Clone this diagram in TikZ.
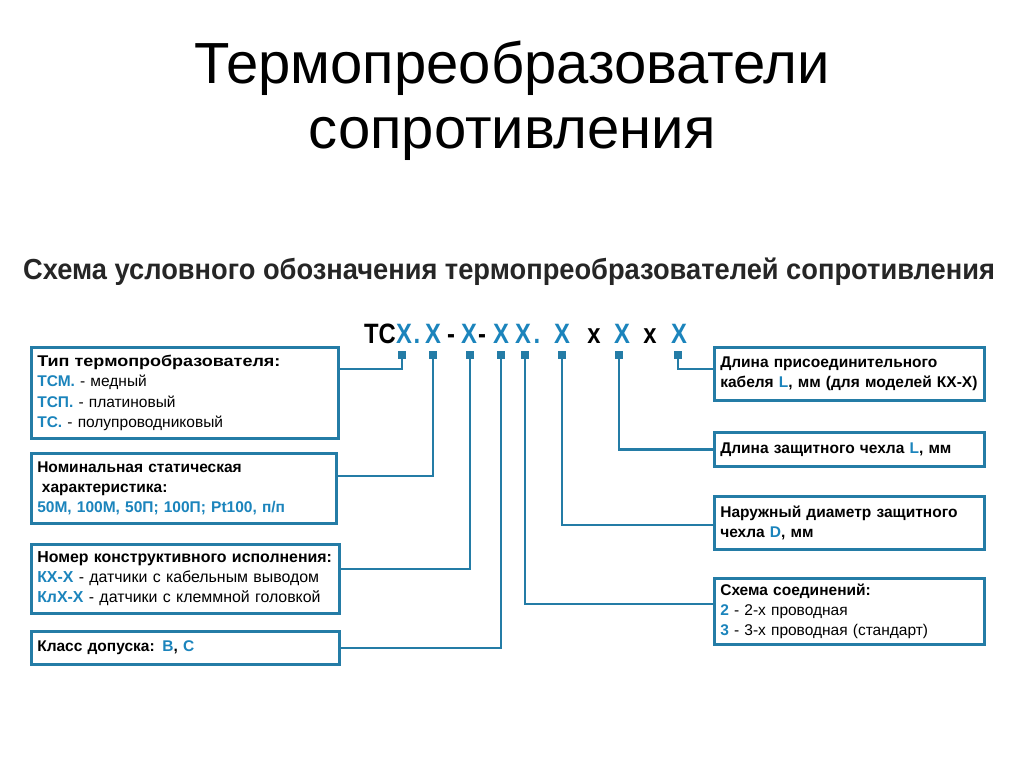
\documentclass[tikz,border=0pt]{standalone}
\usepackage{fontspec}
\setmainfont{Liberation Sans}
\newfontfamily\narrowfont[FakeStretch=0.94]{Liberation Sans}
\newfontfamily\codefont[FakeStretch=0.85]{Liberation Sans}
\newfontfamily\widefont[FakeStretch=1.16]{Liberation Sans}
\usetikzlibrary{positioning}
\definecolor{frameblue}{RGB}{36,124,166}
\definecolor{codeblue}{RGB}{27,132,188}
\newcommand{\bl}[1]{\textcolor{codeblue}{\textbf{#1}}}
\tikzset{
  infobox/.style={draw=frameblue,line width=2.6pt,fill=white,anchor=north west,align=left,
    inner xsep=6pt,inner ysep=0pt,font=\fontsize{15.5}{20.3}\selectfont},
  wire/.style={frameblue,line width=2.4pt},
  pinsq/.style={fill=frameblue,minimum size=8pt,inner sep=0pt},
  codech/.style={anchor=base,inner sep=0pt,font=\codefont\fontsize{28}{30}\selectfont\bfseries},
}

\begin{document}
\begin{tikzpicture}[x=1pt,y=-1pt]
\useasboundingbox[fill=white] (0,0) rectangle (1024,768);
% headings
\node[anchor=base,font=\fontsize{58}{60}\selectfont] (title1) at (512,83) {Термопреобразователи};
\node[anchor=base,font=\fontsize{58}{60}\selectfont] (title2) at (512,148) {сопротивления};
\node[anchor=base,text=black!85,font=\narrowfont\fontsize{29}{30}\selectfont\bfseries] (subtitle) at (509,279)
  {Схема условного обозначения термопреобразователей сопротивления};

% code line
\node[codech] (tc) at (380,343) {ТС};
\node[codech,text=codeblue] (c1) at (404,343) {Х};
\node[codech,text=codeblue] (d1) at (417,343) {.};
\node[codech,text=codeblue] (c2) at (433,343) {Х};
\node[codech] (h1) at (451,343) {-};
\node[codech,text=codeblue] (c3) at (469,343) {Х};
\node[codech] (h2) at (482,343) {-};
\node[codech,text=codeblue] (c4) at (501,343) {Х};
\node[codech,text=codeblue] (c5) at (523,343) {Х};
\node[codech,text=codeblue] (d2) at (537,343) {.};
\node[codech,text=codeblue] (c6) at (562,343) {Х};
\node[codech] (m1) at (594,343) {х};
\node[codech,text=codeblue] (c7) at (622,343) {Х};
\node[codech] (m2) at (650,343) {х};
\node[codech,text=codeblue] (c8) at (679,343) {Х};
\foreach \i/\x in {1/402,2/433,3/470,4/501,5/525,6/562,7/619,8/678}
  \node[pinsq] (s\i) at (\x,355) {};

% left boxes
\node[infobox,minimum width=307pt,minimum height=91pt,text width=295pt] (typ) at (30,346)
  {{\widefont\bfseries Тип термопробразователя:}\\ \bl{ТСМ.} - медный\\ \bl{ТСП.} - платиновый\\ \bl{ТС.} - полупроводниковый};
\node[infobox,minimum width=305pt,minimum height=70pt,text width=293pt] (nsh) at (30,452)
  {\textbf{Номинальная статическая}\\ \hspace*{0.3em}\textbf{характеристика:}\\ \bl{50М, 100М, 50П; 100П; Pt100, п/п}};
\node[infobox,minimum width=308pt,minimum height=69pt,text width=296pt,font=\fontsize{15.9}{20.3}\selectfont] (kon) at (30,543)
  {\mbox{\textbf{Номер конструктивного исполнения:}}\\ \bl{КХ-Х} - датчики с кабельным выводом\\ \bl{КлХ-Х} - датчики с клеммной головкой};
\node[infobox,minimum width=308pt,minimum height=33pt,text width=296pt] (kl) at (30,630)
  {\textbf{Класс допуска:} \bl{В}\textbf{,} \bl{С}};

% right boxes
\node[infobox,minimum width=270pt,minimum height=53pt,text width=258pt] (kab) at (713,346)
  {\textbf{Длина присоединительного}\\ \textbf{кабеля \textcolor{codeblue}{L}, мм (для моделей КХ-Х)}};
\node[infobox,minimum width=270pt,minimum height=34pt,text width=258pt] (chl) at (713,431)
  {\textbf{Длина защитного чехла \textcolor{codeblue}{L}, мм}};
\node[infobox,minimum width=270pt,minimum height=53pt,text width=258pt] (dia) at (713,495)
  {\textbf{Наружный диаметр защитного}\\ \textbf{чехла \textcolor{codeblue}{D}, мм}};
\node[infobox,minimum width=270pt,minimum height=66pt,text width=258pt] (sch) at (713,577)
  {\textbf{Схема соединений:}\\ \bl{2} - 2-х проводная\\ \bl{3} - 3-х проводная (стандарт)};

% connectors
\draw[wire] (s1.south) |- ([yshift=-23pt]typ.north east);
\draw[wire] (s2.south) |- ([yshift=-24pt]nsh.north east);
\draw[wire] (s3.south) |- ([yshift=-26pt]kon.north east);
\draw[wire] (s4.south) |- (kl.east);
\draw[wire] (s5.south) |- ([yshift=-27pt]sch.north west);
\draw[wire] (s6.south) |- ([yshift=-30pt]dia.north west);
\draw[wire] (s7.south) |- (chl.west);
\draw[wire] (s8.south) |- ([yshift=-23pt]kab.north west);
\end{tikzpicture}
\end{document}
